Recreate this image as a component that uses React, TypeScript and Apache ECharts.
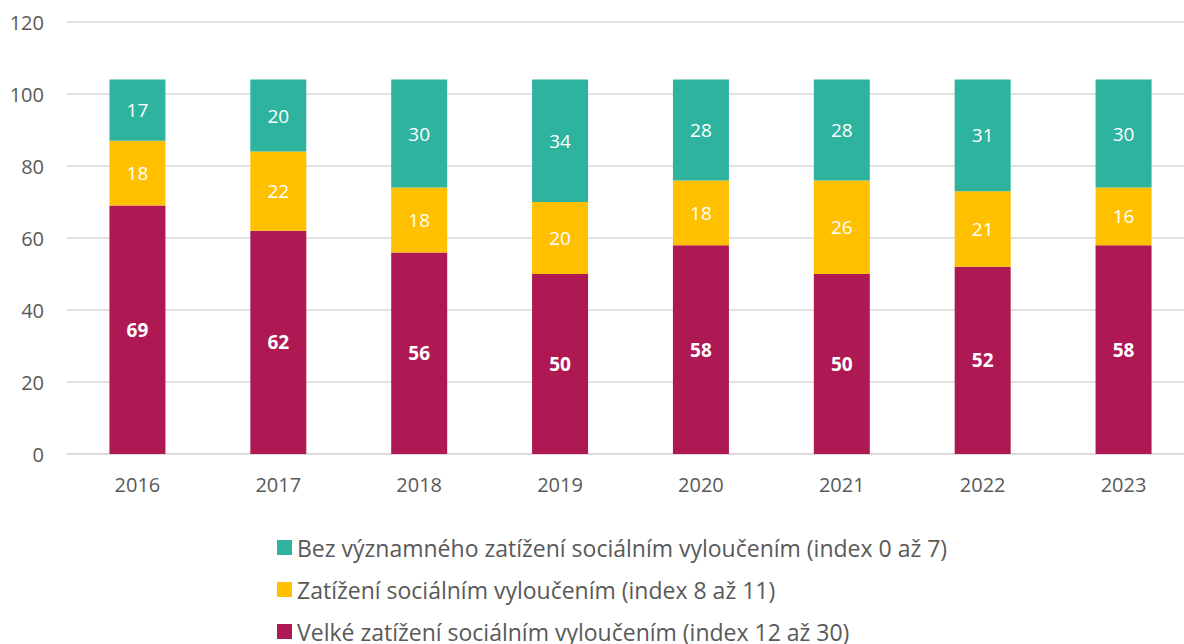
import React, { useEffect, useRef } from "react";
import * as echarts from "echarts";

const years = ["2016", "2017", "2018", "2019", "2020", "2021", "2022", "2023"];
const velke = [69, 62, 56, 50, 58, 50, 52, 58];
const zatizeni = [18, 22, 18, 20, 18, 26, 21, 16];
const bez = [17, 20, 30, 34, 28, 28, 31, 30];
const seriesNames = [
  "Bez významného zatížení sociálním vyloučením (index 0 až 7)",
  "Zatížení sociálním vyloučením (index 8 až 11)",
  "Velké zatížení sociálním vyloučením (index 12 až 30)",
];

const FONT = "'Open Sans', 'Noto Sans', sans-serif";

export default function App() {
  const ref = useRef<HTMLDivElement>(null);
  useEffect(() => {
    if (!ref.current) return;
    const chart = echarts.init(ref.current, undefined, { renderer: "svg" });
    const label = (bold: boolean) => ({
      show: true,
      position: "inside" as const,
      color: "#ffffff",
      fontSize: 19,
      fontFamily: FONT,
      fontWeight: bold ? ("bold" as const) : ("normal" as const),
    });
    chart.setOption({
      animation: false,
      textStyle: { fontFamily: FONT },
      grid: { left: 67, right: 0, top: 22, bottom: 190, containLabel: false },
      legend: {
        orient: "vertical",
        left: 277,
        top: 536,
        height: 200,
        padding: 0,
        itemWidth: 15,
        itemHeight: 15,
        itemGap: 19,
        icon: "rect",
        data: [seriesNames[0], seriesNames[1], seriesNames[2]],
        textStyle: { fontSize: 23, color: "#595959", fontFamily: FONT },
      },
      xAxis: {
        type: "category",
        data: years,
        axisLine: { lineStyle: { color: "#d9d9d9", width: 1.5 } },
        axisTick: { show: false },
        axisLabel: { color: "#595959", fontSize: 20, margin: 20, fontFamily: FONT },
      },
      yAxis: {
        type: "value",
        min: 0,
        max: 120,
        interval: 20,
        axisLine: { show: false },
        axisTick: { show: false },
        splitLine: { lineStyle: { color: "#d9d9d9", width: 1.5 } },
        axisLabel: { color: "#595959", fontSize: 20, margin: 23, fontFamily: FONT },
      },
      series: [
        {
          name: seriesNames[2],
          type: "bar",
          stack: "a",
          barWidth: 56,
          data: velke,
          itemStyle: { color: "#AE1953" },
          label: label(true),
        },
        {
          name: seriesNames[1],
          type: "bar",
          stack: "a",
          barWidth: 56,
          data: zatizeni,
          itemStyle: { color: "#FFC000" },
          label: label(false),
        },
        {
          name: seriesNames[0],
          type: "bar",
          stack: "a",
          barWidth: 56,
          data: bez,
          itemStyle: { color: "#2EB39F" },
          label: label(false),
        },
      ],
    });
    return () => chart.dispose();
  }, []);
  return (
    <div
      style={{
        position: "fixed",
        left: 0,
        top: 0,
        width: 1184,
        height: 644,
        overflow: "hidden",
        background: "#fff",
      }}
    >
      <div ref={ref} style={{ width: 1194, height: 644 }} />
    </div>
  );
}
